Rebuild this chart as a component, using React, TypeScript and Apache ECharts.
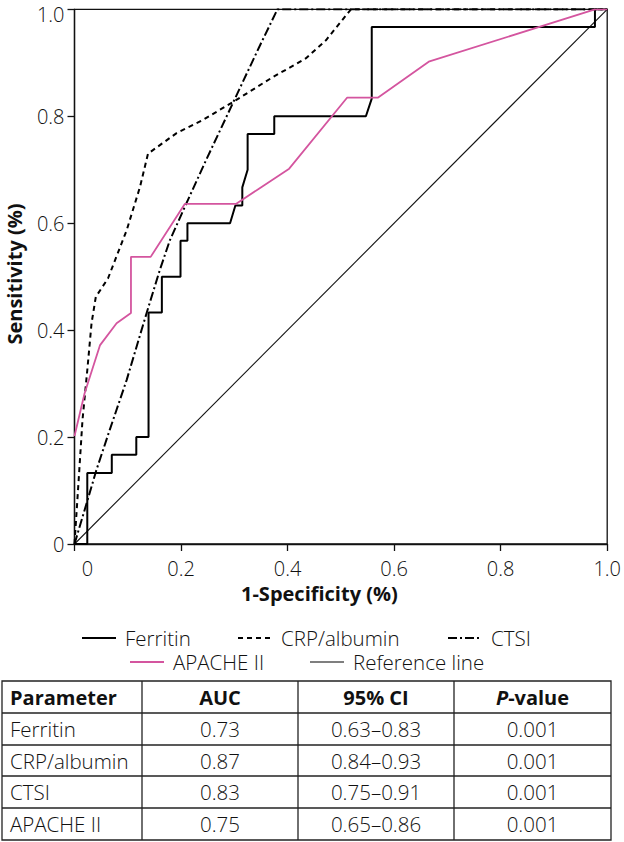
import React, { useEffect, useRef } from 'react';
import * as echarts from 'echarts';

// ---- Data ----
const ferritinX = [0, 0.024, 0.024, 0.070, 0.070, 0.116, 0.116, 0.139, 0.139, 0.164, 0.164, 0.199, 0.199, 0.212, 0.212, 0.292, 0.302, 0.315, 0.315, 0.325, 0.325, 0.375, 0.375, 0.547, 0.558, 0.558, 0.977, 0.977, 1];
const ferritinY = [0, 0, 0.133, 0.133, 0.167, 0.167, 0.2, 0.2, 0.433, 0.433, 0.5, 0.5, 0.567, 0.567, 0.6, 0.6, 0.633, 0.633, 0.667, 0.7, 0.767, 0.767, 0.8, 0.8, 0.833, 0.967, 0.967, 1, 1];

const crpX = [0, 0.009, 0.015, 0.024, 0.032, 0.040, 0.063, 0.098, 0.123, 0.138, 0.191, 0.241, 0.303, 0.372, 0.434, 0.472, 0.519, 1];
const crpY = [0, 0.138, 0.232, 0.325, 0.413, 0.462, 0.497, 0.587, 0.668, 0.730, 0.768, 0.793, 0.830, 0.873, 0.908, 0.942, 1.0, 1.0];

const ctsiX = [0, 0.023, 0.041, 0.066, 0.098, 0.136, 0.160, 0.179, 0.210, 0.247, 0.297, 0.347, 0.381, 1];
const ctsiY = [0, 0.077, 0.138, 0.213, 0.307, 0.434, 0.512, 0.568, 0.637, 0.718, 0.824, 0.930, 1.0, 1.0];

const apacheX = [0, 0.019, 0.048, 0.079, 0.106, 0.106, 0.143, 0.207, 0.303, 0.347, 0.403, 0.512, 0.570, 0.665, 0.977, 1];
const apacheY = [0.202, 0.282, 0.372, 0.413, 0.432, 0.537, 0.537, 0.636, 0.636, 0.665, 0.702, 0.835, 0.835, 0.902, 1.0, 1.0];

const refX = [0, 1];
const refY = [0, 1];

const legendNames = ['Ferritin', 'CRP/albumin', 'CTSI', 'APACHE II', 'Reference line'];

const tableHeaders = ['Parameter', 'AUC', '95% CI', 'P-value'];
const tableParams = ['Ferritin', 'CRP/albumin', 'CTSI', 'APACHE II'];
const tableAUC = ['0.73', '0.87', '0.83', '0.75'];
const tableCI = ['0.63–0.83', '0.84–0.93', '0.75–0.91', '0.65–0.86'];
const tableP = ['0.001', '0.001', '0.001', '0.001'];

const pairs = (xs: number[], ys: number[]) => xs.map((x, i) => [x, ys[i]]);

export default function App() {
  const ref = useRef<HTMLDivElement>(null);

  useEffect(() => {
    const chart = echarts.init(ref.current!, null, { renderer: 'svg' });
    const FONT = '"Open Sans", "Noto Sans", sans-serif';
    const TXT = '#111';
    const PINK = '#d4559f';
    const FS = 20.5;
    const TFS = 20;

    const elements: any[] = [];

    // Axis titles
    elements.push({
      type: 'text', x: 241, y: 593,
      style: { text: '1-Specificity (%)', fill: '#111', fontSize: 20, fontFamily: FONT, fontWeight: 700, align: 'left', verticalAlign: 'middle' },
    });
    elements.push({
      type: 'text', x: 14, y: 274, rotation: Math.PI / 2,
      style: { text: 'Sensitivity (%)', fill: '#111', fontSize: 20, fontFamily: FONT, fontWeight: 700, align: 'center', verticalAlign: 'middle' },
    });

    // Legend
    const legendItems = [
      { name: legendNames[0], x: 82, y: 638, stroke: '#000', w: 2, dash: null },
      { name: legendNames[1], x: 238, y: 638, stroke: '#000', w: 2, dash: [5, 4] },
      { name: legendNames[2], x: 448, y: 638, stroke: '#000', w: 2, dash: [9, 3, 2, 3] },
      { name: legendNames[3], x: 130, y: 662, stroke: PINK, w: 2, dash: null },
      { name: legendNames[4], x: 310, y: 662, stroke: '#000', w: 1.2, dash: null },
    ];
    legendItems.forEach((it) => {
      elements.push({
        type: 'line',
        shape: { x1: it.x, y1: it.y, x2: it.x + 34, y2: it.y },
        style: { stroke: it.stroke, lineWidth: it.w, lineDash: it.dash || undefined },
      });
      elements.push({
        type: 'text', x: it.x + 43, y: it.y,
        style: { text: it.name, fill: TXT, fontSize: FS, fontFamily: FONT, fontWeight: 300, align: 'left', verticalAlign: 'middle' },
      });
    });

    // Table
    const tL = 2, tR = 611, tT = 681;
    const rowLines = [681, 713, 745, 776, 808, 840];
    const colLines = [142, 298, 454];
    const colCenters = [0, 220, 376, 532.5];
    const LW = 1.3;
    elements.push({
      type: 'rect', shape: { x: tL, y: tT, width: tR - tL, height: rowLines[5] - tT },
      style: { fill: 'none', stroke: '#222', lineWidth: LW },
    });
    rowLines.slice(1, 5).forEach((y) => {
      elements.push({ type: 'line', shape: { x1: tL, y1: y, x2: tR, y2: y }, style: { stroke: '#222', lineWidth: LW } });
    });
    colLines.forEach((x) => {
      elements.push({ type: 'line', shape: { x1: x, y1: tT, x2: x, y2: rowLines[5] }, style: { stroke: '#222', lineWidth: LW } });
    });
    // header
    const hy = (rowLines[0] + rowLines[1]) / 2;
    const hdr = { fill: '#111', fontSize: 20, fontFamily: FONT, fontWeight: 700, verticalAlign: 'middle' };
    elements.push({ type: 'text', x: 10, y: hy, style: { ...hdr, text: tableHeaders[0], align: 'left' } });
    elements.push({ type: 'text', x: colCenters[1], y: hy, style: { ...hdr, text: tableHeaders[1], align: 'center' } });
    elements.push({ type: 'text', x: colCenters[2], y: hy, style: { ...hdr, text: tableHeaders[2], align: 'center' } });
    elements.push({
      type: 'text', x: colCenters[3], y: hy,
      style: {
        text: '{i|' + tableHeaders[3].slice(0, 1) + '}{b|' + tableHeaders[3].slice(1) + '}',
        align: 'center', verticalAlign: 'middle',
        rich: {
          i: { fill: '#111', fontSize: 20, fontFamily: FONT, fontWeight: 700, fontStyle: 'italic' },
          b: { fill: '#111', fontSize: 20, fontFamily: FONT, fontWeight: 700 },
        },
      },
    });
    tableParams.forEach((p, i) => {
      const y = (rowLines[i + 1] + rowLines[i + 2]) / 2;
      const common = { fill: TXT, fontSize: FS, fontFamily: FONT, fontWeight: 300, verticalAlign: 'middle' };
      elements.push({ type: 'text', x: 10, y, style: { ...common, text: p, align: 'left' } });
      elements.push({ type: 'text', x: colCenters[1], y, style: { ...common, text: tableAUC[i], align: 'center' } });
      elements.push({ type: 'text', x: colCenters[2], y, style: { ...common, text: tableCI[i], align: 'center' } });
      elements.push({ type: 'text', x: colCenters[3], y, style: { ...common, text: tableP[i], align: 'center' } });
    });

    const axisCommon = {
      type: 'value' as const,
      min: 0,
      max: 1,
      interval: 0.2,
      splitLine: { show: false },
      axisLine: { show: true, onZero: false, lineStyle: { color: '#111', width: 1.3 } },
      axisTick: { show: true, inside: false, length: 7, lineStyle: { color: '#111', width: 1.3 } },
    };

    chart.setOption({
      animation: false,
      backgroundColor: '#fff',
      grid: { left: 74.5, right: 15, top: 9.3, bottom: 298, show: true, borderColor: '#111', borderWidth: 1.3, backgroundColor: 'transparent' },
      xAxis: {
        ...axisCommon,
        axisLabel: {
          margin: 14,
          color: TXT, fontSize: TFS, fontFamily: FONT, fontWeight: 300,
          formatter: (v: number) => (v === 0 ? '{z|0}' : v.toFixed(1)),
          rich: { z: { padding: [0, 0, 0, 26], color: TXT, fontSize: TFS, fontFamily: FONT, fontWeight: 300 } },
        },
      },
      yAxis: {
        ...axisCommon,
        axisLabel: {
          margin: 10,
          color: TXT, fontSize: TFS, fontFamily: FONT, fontWeight: 300,
          formatter: (v: number) => (v === 0 ? '0' : v === 1 ? '{t|1.0}' : v.toFixed(1)),
          rich: { t: { padding: [10, 0, 0, 0], color: TXT, fontSize: TFS, fontFamily: FONT, fontWeight: 300 } },
        },
      },
      series: [
        { name: legendNames[4], type: 'line', data: pairs(refX, refY), symbol: 'none', lineStyle: { color: '#111', width: 1.1 }, z: 2 },
        { name: legendNames[0], type: 'line', data: pairs(ferritinX, ferritinY), symbol: 'none', lineStyle: { color: '#000', width: 2 }, z: 3 },
        { name: legendNames[1], type: 'line', data: pairs(crpX, crpY), symbol: 'none', lineStyle: { color: '#000', width: 2, type: [5, 4] }, z: 3 },
        { name: legendNames[2], type: 'line', data: pairs(ctsiX, ctsiY), symbol: 'none', lineStyle: { color: '#000', width: 2, type: [9, 3, 2, 3] }, z: 3 },
        { name: legendNames[3], type: 'line', data: pairs(apacheX, apacheY), symbol: 'none', lineStyle: { color: PINK, width: 1.8 }, z: 4 },
      ],
      graphic: { elements },
    });

    return () => chart.dispose();
  }, []);

  return (
    <div
      ref={ref}
      style={{ position: 'fixed', left: 0, top: 0, width: 624, height: 842, background: '#fff' }}
    />
  );
}
